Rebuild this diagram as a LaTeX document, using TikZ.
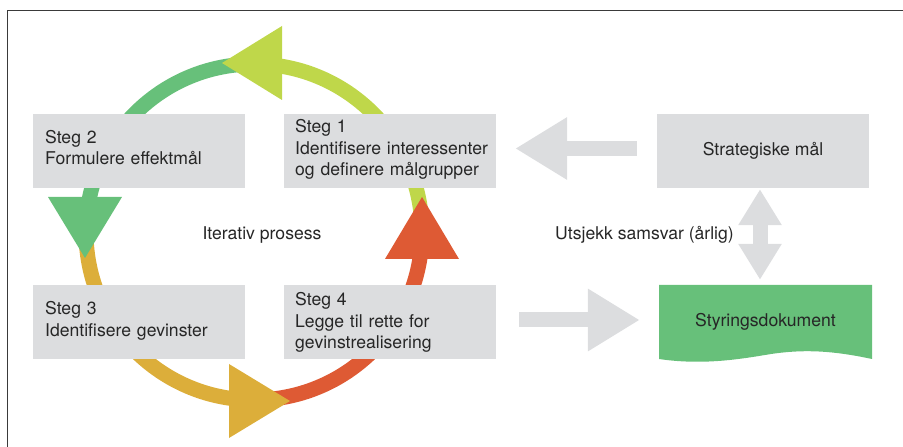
\documentclass[tikz,border=0pt]{standalone}
\usepackage{fontspec}
\setmainfont{TeX Gyre Heros}
\usetikzlibrary{arrows.meta}
\definecolor{boxgray}{HTML}{DCDDDF}
\definecolor{ringlime}{HTML}{BFD74A}
\definecolor{ringgreen}{HTML}{67C07A}
\definecolor{ringorange}{HTML}{DCAE3A}
\definecolor{ringred}{HTML}{DE5A34}
\definecolor{inkgray}{HTML}{262626}
\definecolor{framegray}{HTML}{3A3A3A}
\begin{document}
\begin{tikzpicture}[x=1bp, y=-1bp,
  every node/.style={text=inkgray, font=\fontsize{17.6bp}{21.5bp}\selectfont},
  graybox/.style={fill=boxgray, minimum width=212bp, minimum height=74bp, inner sep=0pt},
  steptext/.style={anchor=base west, inner sep=0pt, text width=205bp, align=left},
  plainlabel/.style={anchor=base, inner sep=0pt},
  ring/.style={line width=15bp},
  blockarrow/.style={draw=boxgray, line width=15bp, -{Triangle[length=52bp, width=59bp]}},
  twoway/.style={draw=boxgray, line width=15bp,
    {Triangle[length=36bp, width=41bp]}-{Triangle[length=36bp, width=41bp]}}
]
\useasboundingbox (0,0) rectangle (903,447);

% frame
\draw[framegray, line width=1.5bp] (7.3,447) -- (7.3,10.3) -- (903,10.3);

% iteration cycle
\coordinate (c) at (254,232);
\draw[ring, ringlime]   ([shift={(-3:168)}]c)   arc[start angle=-3,   end angle=-88,  radius=168];
\draw[ring, ringgreen]  ([shift={(-93:168)}]c)  arc[start angle=-93,  end angle=-176, radius=168];
\draw[ring, ringorange] ([shift={(-181:168)}]c) arc[start angle=-181, end angle=-269, radius=168];
\draw[ring, ringred]    ([shift={(-273:168)}]c) arc[start angle=-273, end angle=-358, radius=168];

\fill[ringlime]   (282,26)  -- (282,100) -- (222,63)  -- cycle;
\fill[ringgreen]  (48,197)  -- (122,197) -- (85,258)  -- cycle;
\fill[ringorange] (229,364) -- (229,438) -- (290,401) -- cycle;
\fill[ringred]    (385,259) -- (459,259) -- (422,197) -- cycle;

% step boxes
\node[graybox] (s1) at (390,151) {};
\node[graybox] (s2) at (139,151) {};
\node[graybox] (s3) at (139,322) {};
\node[graybox] (s4) at (390,322) {};

\node[steptext] (t1) at (295,132.7) {Steg 1\\Identifisere interessenter\\og definere målgrupper};
\node[steptext] (t2) at (45,143.3)  {Steg 2\\Formulere effektmål};
\node[steptext] (t3) at (45,315)    {Steg 3\\Identifisere gevinster};
\node[steptext] (t4) at (295,306)   {Steg 4\\Legge til rette for\\gevinstrealisering};

\node[plainlabel] (it) at (262,239.3) {Iterativ prosess};

% strategy and governing document
\node[graybox] (s) at (763,151) {Strategiske mål};

\fill[ringgreen] (659,285) -- (872,285) -- (872,359)
  .. controls (830,350) and (800,349) .. (765,355)
  .. controls (735,360) and (700,365) .. (659,359) -- cycle;
\node[minimum width=213bp, minimum height=74bp, inner sep=0pt] (doc) at (765.5,322) {Styringsdokument};

\node[plainlabel] (chk) at (644.5,239.3) {Utsjekk samsvar (årlig)};

% connectors
\draw[blockarrow, shorten <=20bp, shorten >=19bp] ([yshift=2.5bp]s.west) -- ([yshift=2.5bp]s1.east);
\draw[blockarrow, shorten <=23bp, shorten >=19bp] ([yshift=2bp]s4.east) -- ([yshift=2bp]s4.east -| doc.west);
\coordinate (dtop) at ([xshift=-3bp]s.south);
\draw[twoway, shorten <=1bp, shorten >=5bp] (dtop) -- (dtop |- doc.north);
\end{tikzpicture}
\end{document}
